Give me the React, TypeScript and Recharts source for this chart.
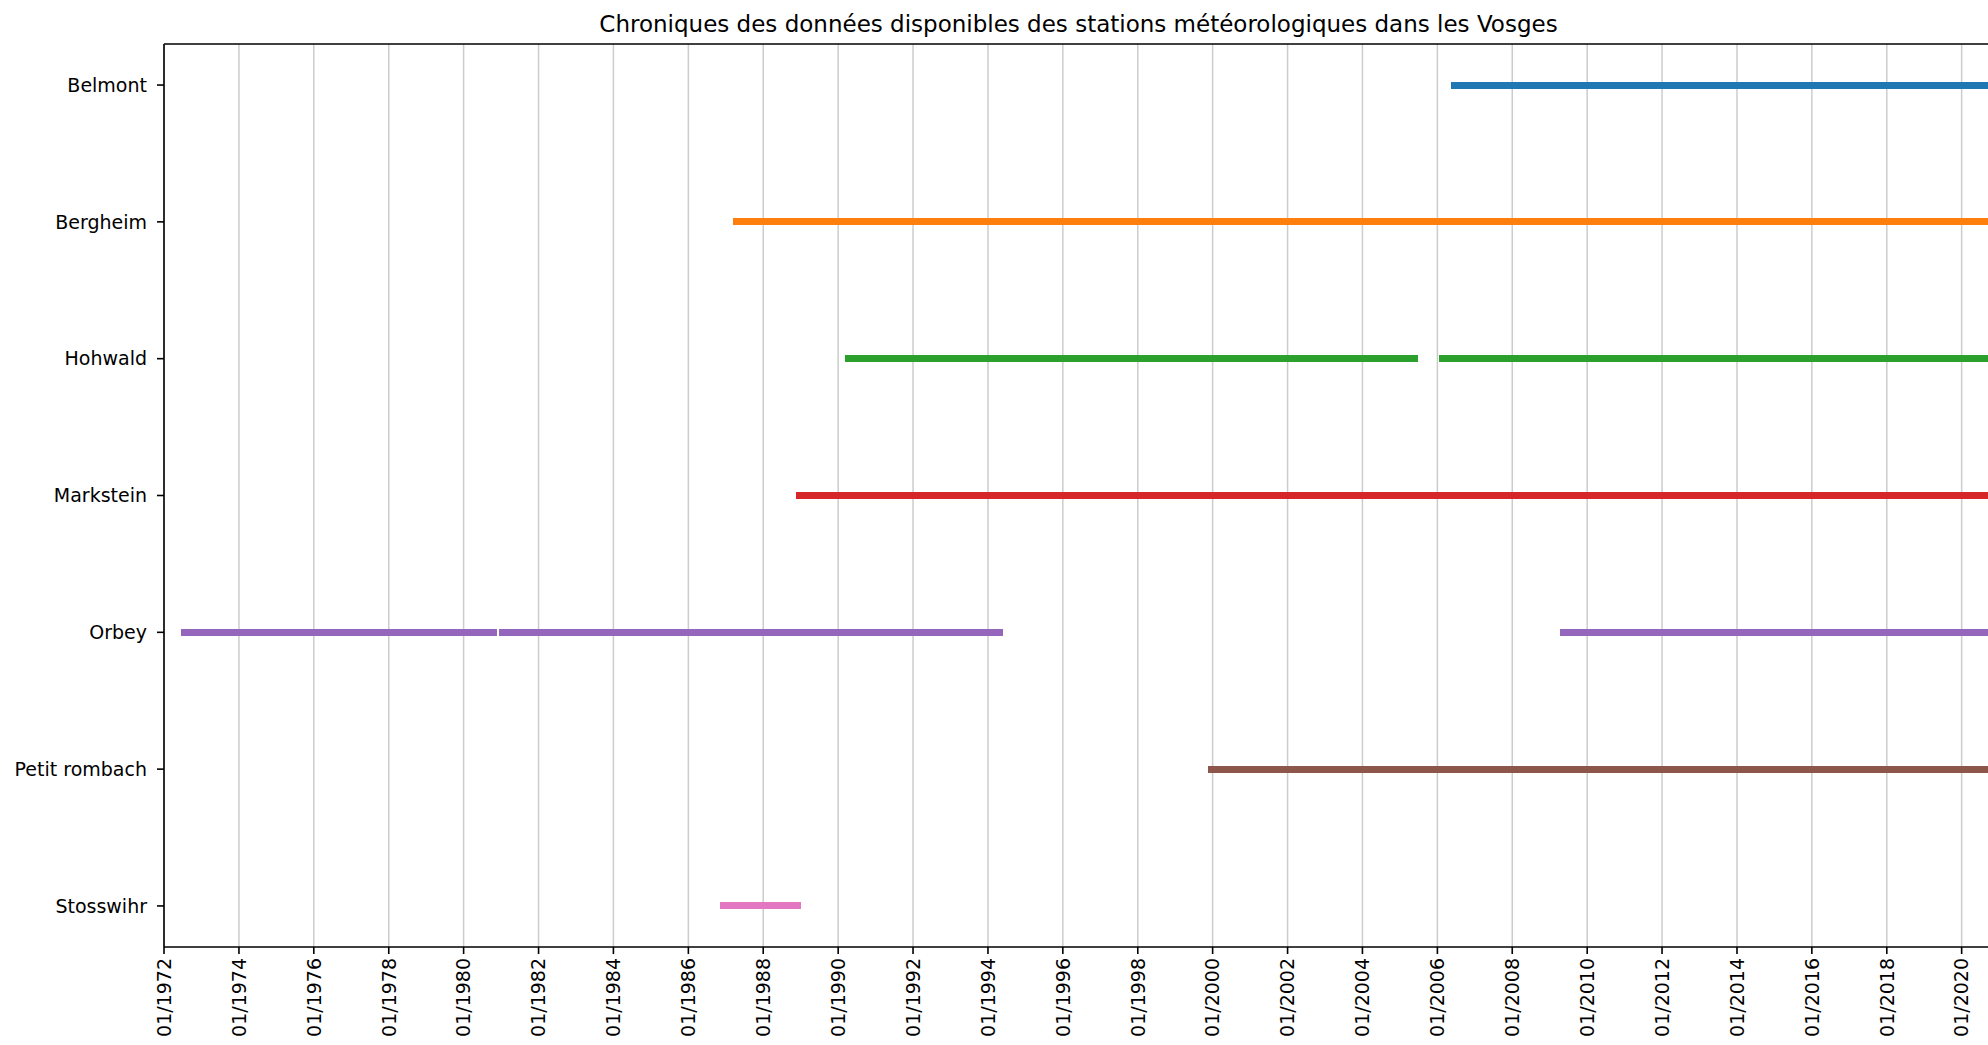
import React from 'react';
import { LineChart, Line, XAxis, YAxis, CartesianGrid, ReferenceLine } from 'recharts';

const stations = ['Belmont', 'Bergheim', 'Hohwald', 'Markstein', 'Orbey', 'Petit rombach', 'Stosswihr'];
const colors = ['#1f77b4', '#ff7f0e', '#2ca02c', '#d62728', '#9467bd', '#8c564b', '#e377c2'];

const belmontPeriods = [['2006-05-15', '2007-01-18'], ['2007-01-18', '2020-12-31']];
const bergheimPeriods = [['1987-03-10', '1990-11-21'], ['1990-11-21', '2020-12-31']];
const hohwaldPeriods = [['1990-03-13', '2005-06-28'], ['2006-01-12', '2006-11-16'], ['2006-11-16', '2020-12-31']];
const marksteinPeriods = [['1988-11-16', '1991-05-20'], ['1991-05-20', '1994-03-19'], ['1994-03-19', '2020-12-31']];
const orbeyPeriods = [['1972-06-10', '1980-11-22'], ['1980-12-16', '1994-06-01'], ['2009-04-15', '2020-12-31']];
const petitRombachPeriods = [['1999-11-14', '2020-12-31']];
const stosswihrPeriods = [['1986-11-10', '1989-01-02']];

const periodsByStation = [belmontPeriods, bergheimPeriods, hohwaldPeriods, marksteinPeriods, orbeyPeriods, petitRombachPeriods, stosswihrPeriods];

const tickYears = [1972, 1974, 1976, 1978, 1980, 1982, 1984, 1986, 1988, 1990, 1992, 1994, 1996, 1998, 2000, 2002, 2004, 2006, 2008, 2010, 2012, 2014, 2016, 2018, 2020];
const xStart = '1972-01-01';
const xEnd = '2020-10-23';

const toMs = (s: string) => Date.parse(s + 'T00:00:00Z');
const xTicks = tickYears.map((y) => Date.UTC(y, 0, 1));
const fmtDate = (t: number) => {
  const d = new Date(t);
  return String(d.getUTCMonth() + 1).padStart(2, '0') + '/' + d.getUTCFullYear();
};

const FONT = 'DejaVu Sans, sans-serif';

const XTick = (props: any) => {
  const { x, y, payload } = props;
  return (
    <text
      x={x}
      y={y}
      transform={`rotate(-90, ${x}, ${y})`}
      textAnchor="end"
      dy="0.36em"
      fontSize={19}
      fontFamily={FONT}
      fill="#000"
    >
      {fmtDate(payload.value)}
    </text>
  );
};

export default function App() {
  const series: { key: string; color: string; data: { t: number; y: number }[] }[] = [];
  periodsByStation.forEach((periods, i) => {
    periods.forEach((p, j) => {
      series.push({
        key: `${stations[i]}-${j}`,
        color: colors[i],
        data: [
          { t: toMs(p[0]), y: i },
          { t: toMs(p[1]), y: i },
        ],
      });
    });
  });

  return (
    <div style={{ position: 'absolute', left: 0, top: 0, width: 1988, height: 1045, overflow: 'hidden', background: '#fff' }}>
      <LineChart width={2010} height={1045} margin={{ top: 44, right: 18, bottom: 0, left: 0 }}>
        <CartesianGrid horizontal={false} vertical={true} stroke="#cccccc" strokeWidth={1.5} />
        <XAxis
          type="number"
          dataKey="t"
          domain={[toMs(xStart), toMs(xEnd)]}
          allowDataOverflow
          ticks={xTicks}
          interval={0}
          tick={<XTick />}
          tickSize={7}
          tickMargin={4}
          height={98}
          stroke="#000"
          strokeWidth={1.6}
          tickLine={{ stroke: '#000', strokeWidth: 1.6 }}
        />
        <YAxis
          type="number"
          dataKey="y"
          domain={[-0.3, 6.3]}
          reversed
          allowDataOverflow
          ticks={[0, 1, 2, 3, 4, 5, 6]}
          interval={0}
          tickFormatter={(v: number) => stations[v]}
          width={164}
          tickSize={7}
          tickMargin={10}
          stroke="#000"
          strokeWidth={1.6}
          tickLine={{ stroke: '#000', strokeWidth: 1.6 }}
          tick={{ fontSize: 19, fontFamily: FONT, fill: '#000' }}
        />
        <ReferenceLine y={-0.3} stroke="#000" strokeWidth={1.6} />
        {series.map((s) => (
          <Line
            key={s.key}
            data={s.data}
            dataKey="y"
            type="linear"
            stroke={s.color}
            strokeWidth={7}
            strokeLinecap="butt"
            shapeRendering="crispEdges"
            dot={false}
            activeDot={false}
            isAnimationActive={false}
          />
        ))}
      </LineChart>
      <svg width={1988} height={44} style={{ position: 'absolute', left: 0, top: 0, pointerEvents: 'none' }}>
        <text x={1078.5} y={32} textAnchor="middle" fontSize={23} fontFamily={FONT} fill="#000">
          Chroniques des données disponibles des stations météorologiques dans les Vosges
        </text>
      </svg>
    </div>
  );
}
